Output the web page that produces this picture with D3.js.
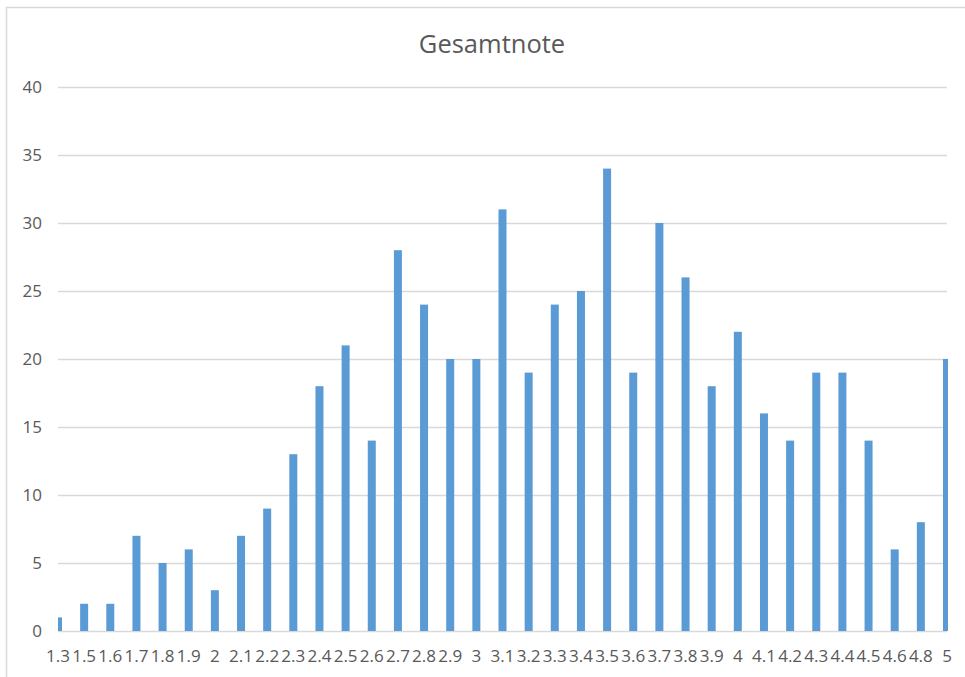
<!DOCTYPE html>
<html>
<head>
<meta charset="utf-8">
<script src="https://cdn.jsdelivr.net/npm/d3@7"></script>
<style>
  body { margin: 0; background: #fff; }
  text { font-family: "Open Sans", sans-serif; fill: #595959; }
</style>
</head>
<body>
<div id="chart"></div>
<script>
// Gesamtnote categories and counts
const grades = ["1.3", "1.5", "1.6", "1.7", "1.8", "1.9", "2", "2.1", "2.2", "2.3",
  "2.4", "2.5", "2.6", "2.7", "2.8", "2.9", "3", "3.1", "3.2", "3.3",
  "3.4", "3.5", "3.6", "3.7", "3.8", "3.9", "4", "4.1", "4.2", "4.3",
  "4.4", "4.5", "4.6", "4.8", "5"];
const counts = [1, 2, 2, 7, 5, 6, 3, 7, 9, 13,
  18, 21, 14, 28, 24, 20, 20, 31, 19, 24,
  25, 34, 19, 30, 26, 18, 22, 16, 14, 19,
  19, 14, 6, 8, 20];
const yTicks = [0, 5, 10, 15, 20, 25, 30, 35, 40];

const width = 965, height = 677;
const margin = { top: 87, right: 17, bottom: 46, left: 58 };
const plotW = width - margin.left - margin.right;
const plotH = height - margin.top - margin.bottom;

const svg = d3.select("#chart").append("svg")
  .attr("width", width)
  .attr("height", height);

// chart frame
svg.append("rect")
  .attr("x", 6.5).attr("y", 7.5)
  .attr("width", 980).attr("height", 700)
  .attr("fill", "none")
  .attr("stroke", "#d9d9d9")
  .attr("stroke-width", 1.5);

svg.append("text")
  .attr("x", 492).attr("y", 53)
  .attr("text-anchor", "middle")
  .style("font-size", "25.5px")
  .text("Gesamtnote");

// categories sit on the tick marks, first and last at the plot edges
const x = d3.scalePoint().domain(grades).range([0, plotW - 1]).padding(0);
const y = d3.scaleLinear().domain([0, 40]).range([plotH, 0]);

const chart = svg.append("g")
  .attr("transform", `translate(${margin.left},${margin.top})`);

chart.append("defs").append("clipPath").attr("id", "plot-clip")
  .append("rect").attr("x", 0).attr("y", -10).attr("width", plotW).attr("height", plotH + 10);

chart.append("g")
  .selectAll("line")
  .data(yTicks)
  .join("line")
    .attr("x1", 0).attr("x2", plotW - 1)
    .attr("y1", d => Math.round(y(d)) + 0.5)
    .attr("y2", d => Math.round(y(d)) + 0.5)
    .attr("stroke", "#d9d9d9")
    .attr("stroke-width", 1.5);

const barW = 8;
chart.append("g")
  .attr("clip-path", "url(#plot-clip)")
  .selectAll("rect")
  .data(counts)
  .join("rect")
    .attr("x", (d, i) => x(grades[i]) - barW / 2)
    .attr("y", d => y(d))
    .attr("width", barW)
    .attr("height", d => plotH - y(d))
    .attr("fill", "#5b9bd5");

// y axis labels
chart.append("g")
  .selectAll("text")
  .data(yTicks)
  .join("text")
    .attr("x", -16)
    .attr("y", d => y(d))
    .attr("dy", "0.35em")
    .attr("text-anchor", "end")
    .style("font-size", "17px")
    .text(d => d);

// x axis labels
chart.append("g")
  .selectAll("text")
  .data(grades)
  .join("text")
    .attr("x", d => x(d))
    .attr("y", plotH + 31)
    .attr("text-anchor", "middle")
    .style("font-size", "17px")
    .text(d => d);
</script>
</body>
</html>
